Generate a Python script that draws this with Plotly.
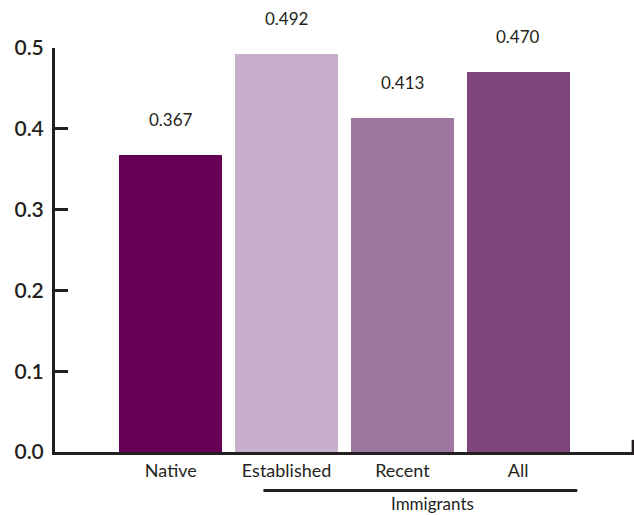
import plotly.graph_objects as go

categories = ["Native", "Established", "Recent", "All"]
values = [0.367, 0.492, 0.413, 0.470]
value_labels = ["0.367", "0.492", "0.413", "0.470"]
colors = ["#660055", "#C8AFCB", "#9E77A0", "#7E457C"]
y_ticks = [0.0, 0.1, 0.2, 0.3, 0.4, 0.5]
y_tick_labels = ["0.0", "0.1", "0.2", "0.3", "0.4", "0.5"]
group_label = "Immigrants"

FONT = "Lato"
TXT = "#231F20"

fig = go.Figure()
fig.add_trace(go.Bar(
    x=list(range(len(categories))),
    y=values,
    marker=dict(color=colors, line=dict(width=0)),
    width=0.89,
    hoverinfo="skip",
))

for i, (v, lab) in enumerate(zip(values, value_labels)):
    fig.add_annotation(x=i, y=v, text=lab, showarrow=False, yshift=36,
                       yanchor="middle", xanchor="center",
                       font=dict(family=FONT, size=17, color=TXT))

# group bracket for immigrants
fig.add_shape(type="line", xref="x", yref="paper", x0=0.8, x1=3.51,
              y0=-0.0955, y1=-0.0955, line=dict(color=TXT, width=3))
fig.add_annotation(x=2.26, xref="x", y=-0.127, yref="paper", text=group_label,
                   showarrow=False, yanchor="middle",
                   font=dict(family=FONT, size=17, color=TXT))
# right end tick of x axis
fig.add_shape(type="line", xref="paper", yref="paper", x0=0.9985, x1=0.9985,
              y0=0, y1=0.03, line=dict(color=TXT, width=3))

fig.update_layout(
    width=634, height=515,
    margin=dict(l=55, r=0, t=48, b=63, autoexpand=False),
    paper_bgcolor="white", plot_bgcolor="white",
    showlegend=False,
    bargap=0,
    font=dict(family=FONT, color=TXT),
    xaxis=dict(
        range=[-1, 4],
        tickmode="array",
        tickvals=list(range(len(categories))),
        ticktext=categories,
        showline=True, linecolor=TXT, linewidth=3,
        showgrid=False, zeroline=False,
        ticks="", tickfont=dict(family=FONT, size=18, color=TXT),
        ticklabelstandoff=0,
        automargin=False,
        fixedrange=True,
    ),
    yaxis=dict(
        range=[0, 0.5],
        tickmode="array",
        tickvals=y_ticks,
        ticktext=y_tick_labels,
        showline=True, linecolor=TXT, linewidth=3,
        showgrid=False, zeroline=False,
        ticks="inside", ticklen=13, tickwidth=3, tickcolor=TXT,
        tickfont=dict(family=FONT, size=21, color=TXT, weight=600),
        ticklabelstandoff=4,
        automargin=False,
        fixedrange=True,
    ),
)
fig.update_traces(cliponaxis=False)

fig.write_html(
    "out.html",
    config={"displayModeBar": False},
    post_script="document.body.style.margin='0';document.body.style.padding='0';document.body.style.overflow='hidden';",
)
